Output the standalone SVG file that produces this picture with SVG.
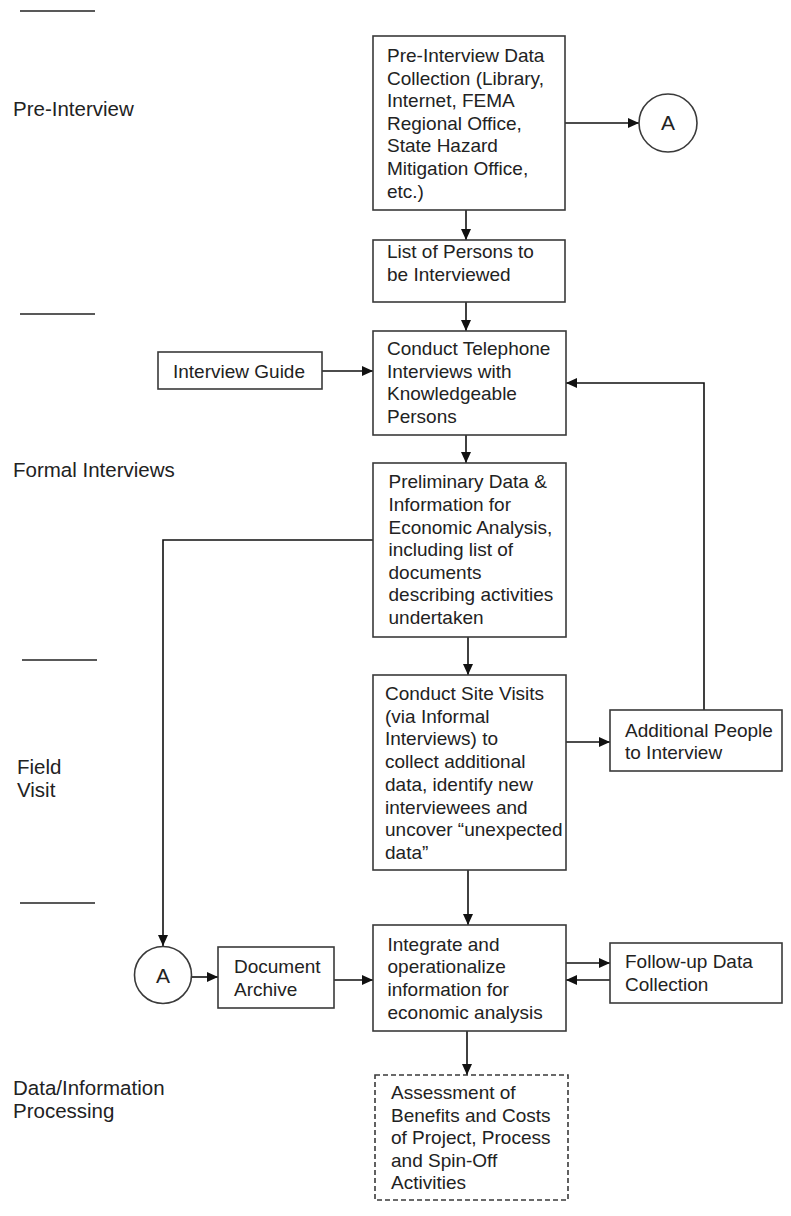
<svg xmlns="http://www.w3.org/2000/svg" width="791" height="1216" viewBox="0 0 791 1216">
<style>
  .box { fill: #fff; stroke: #3a3a3a; stroke-width: 1.6; }
  .dash { fill: #fff; stroke: #3a3a3a; stroke-width: 1.6; stroke-dasharray: 5 3; }
  .t { font-family: "Liberation Sans", Arial, sans-serif; font-size: 19px; fill: #222; }
  .lab { font-family: "Liberation Sans", Arial, sans-serif; font-size: 20.5px; fill: #222; }
  .c { fill: none; stroke: #111; stroke-width: 1.6; }
  .sep { stroke: #222; stroke-width: 1.6; }
</style>
<defs>
  <marker id="ah" markerUnits="userSpaceOnUse" markerWidth="11" markerHeight="10" refX="11" refY="5" orient="auto">
    <path d="M0,0 L11,5 L0,10 z" fill="#111"/>
  </marker>
</defs>

<g id="phase-labels">
  <line class="sep" x1="20" y1="11" x2="95" y2="11"/>
  <text class="lab" x="13" y="116">Pre-Interview</text>
  <line class="sep" x1="20" y1="314" x2="95" y2="314"/>
  <text class="lab" x="13" y="477">Formal Interviews</text>
  <line class="sep" x1="22" y1="660" x2="97" y2="660"/>
  <text class="lab" x="17" y="774">Field</text>
  <text class="lab" x="17" y="797">Visit</text>
  <line class="sep" x1="20" y1="903" x2="95" y2="903"/>
  <text class="lab" x="13" y="1095">Data/Information</text>
  <text class="lab" x="13" y="1118">Processing</text>
</g>

<g id="connectors">
  <line class="c" x1="565" y1="123" x2="639" y2="123" marker-end="url(#ah)"/>
  <line class="c" x1="466" y1="210" x2="466" y2="240" marker-end="url(#ah)"/>
  <line class="c" x1="466" y1="302" x2="466" y2="331" marker-end="url(#ah)"/>
  <line class="c" x1="322" y1="371" x2="373" y2="371" marker-end="url(#ah)"/>
  <polyline class="c" points="704,710 704,383 566,383" marker-end="url(#ah)"/>
  <line class="c" x1="466" y1="435" x2="466" y2="463" marker-end="url(#ah)"/>
  <polyline class="c" points="373,540 163,540 163,946" marker-end="url(#ah)"/>
  <line class="c" x1="468" y1="637" x2="468" y2="675" marker-end="url(#ah)"/>
  <line class="c" x1="566" y1="742" x2="610" y2="742" marker-end="url(#ah)"/>
  <line class="c" x1="468" y1="870" x2="468" y2="925" marker-end="url(#ah)"/>
  <line class="c" x1="191" y1="977" x2="218" y2="977" marker-end="url(#ah)"/>
  <line class="c" x1="334" y1="980" x2="373" y2="980" marker-end="url(#ah)"/>
  <line class="c" x1="566" y1="963" x2="610" y2="963" marker-end="url(#ah)"/>
  <line class="c" x1="610" y1="980" x2="566" y2="980" marker-end="url(#ah)"/>
  <line class="c" x1="467" y1="1031" x2="467" y2="1075" marker-end="url(#ah)"/>
</g>

<g id="pre-interview-data">
  <rect class="box" x="373" y="36" width="192" height="174"/>
  <text class="t" x="387" y="62">Pre-Interview Data</text>
  <text class="t" x="387" y="84.6">Collection (Library,</text>
  <text class="t" x="387" y="107.2">Internet, FEMA</text>
  <text class="t" x="387" y="129.8">Regional Office,</text>
  <text class="t" x="387" y="152.4">State Hazard</text>
  <text class="t" x="387" y="175">Mitigation Office,</text>
  <text class="t" x="387" y="197.6">etc.)</text>
</g>

<g id="connector-a-top">
  <circle class="box" cx="668" cy="123" r="29"/>
  <text class="t" x="668" y="130" text-anchor="middle" style="font-size:21px">A</text>
</g>

<g id="list-of-persons">
  <rect class="box" x="373" y="240" width="192" height="62"/>
  <text class="t" x="387" y="258">List of Persons to</text>
  <text class="t" x="387" y="281">be Interviewed</text>
</g>

<g id="interview-guide">
  <rect class="box" x="158" y="352" width="164" height="37"/>
  <text class="t" x="173" y="377.5">Interview Guide</text>
</g>

<g id="telephone-interviews">
  <rect class="box" x="373" y="331" width="193" height="104"/>
  <text class="t" x="387" y="355">Conduct Telephone</text>
  <text class="t" x="387" y="377.6">Interviews with</text>
  <text class="t" x="387" y="400.2">Knowledgeable</text>
  <text class="t" x="387" y="422.8">Persons</text>
</g>

<g id="preliminary-data">
  <rect class="box" x="373" y="463" width="193" height="174"/>
  <text class="t" x="388.5" y="488.3">Preliminary Data &amp;</text>
  <text class="t" x="388.5" y="510.9">Information for</text>
  <text class="t" x="388.5" y="533.5">Economic Analysis,</text>
  <text class="t" x="388.5" y="556.1">including list of</text>
  <text class="t" x="388.5" y="578.7">documents</text>
  <text class="t" x="388.5" y="601.3">describing activities</text>
  <text class="t" x="388.5" y="623.9">undertaken</text>
</g>

<g id="site-visits">
  <rect class="box" x="373" y="675" width="193" height="195"/>
  <text class="t" x="385" y="700">Conduct Site Visits</text>
  <text class="t" x="385" y="722.7">(via Informal</text>
  <text class="t" x="385" y="745.4">Interviews) to</text>
  <text class="t" x="385" y="768.1">collect additional</text>
  <text class="t" x="385" y="790.8">data, identify new</text>
  <text class="t" x="385" y="813.5">interviewees and</text>
  <text class="t" x="385" y="836.2">uncover “unexpected</text>
  <text class="t" x="385" y="858.9">data”</text>
</g>

<g id="additional-people">
  <rect class="box" x="610" y="710" width="172" height="61"/>
  <text class="t" x="625" y="736.5">Additional People</text>
  <text class="t" x="625" y="759">to Interview</text>
</g>

<g id="connector-a-bottom">
  <circle class="box" cx="163" cy="975" r="28.5"/>
  <text class="t" x="163" y="982.5" text-anchor="middle" style="font-size:21px">A</text>
</g>

<g id="document-archive">
  <rect class="box" x="218" y="947" width="116" height="61"/>
  <text class="t" x="234" y="973.3">Document</text>
  <text class="t" x="234" y="996">Archive</text>
</g>

<g id="integrate">
  <rect class="box" x="373" y="925" width="193" height="106"/>
  <text class="t" x="387.5" y="950.7">Integrate and</text>
  <text class="t" x="387.5" y="973.3">operationalize</text>
  <text class="t" x="387.5" y="995.9">information for</text>
  <text class="t" x="387.5" y="1018.5">economic analysis</text>
</g>

<g id="follow-up">
  <rect class="box" x="610" y="943" width="172" height="60"/>
  <text class="t" x="625" y="968.3">Follow-up Data</text>
  <text class="t" x="625" y="991">Collection</text>
</g>

<g id="assessment">
  <rect class="dash" x="375" y="1075" width="193" height="125"/>
  <text class="t" x="391" y="1099">Assessment of</text>
  <text class="t" x="391" y="1121.6">Benefits and Costs</text>
  <text class="t" x="391" y="1144.2">of Project, Process</text>
  <text class="t" x="391" y="1166.8">and Spin-Off</text>
  <text class="t" x="391" y="1189.4">Activities</text>
</g>
</svg>
